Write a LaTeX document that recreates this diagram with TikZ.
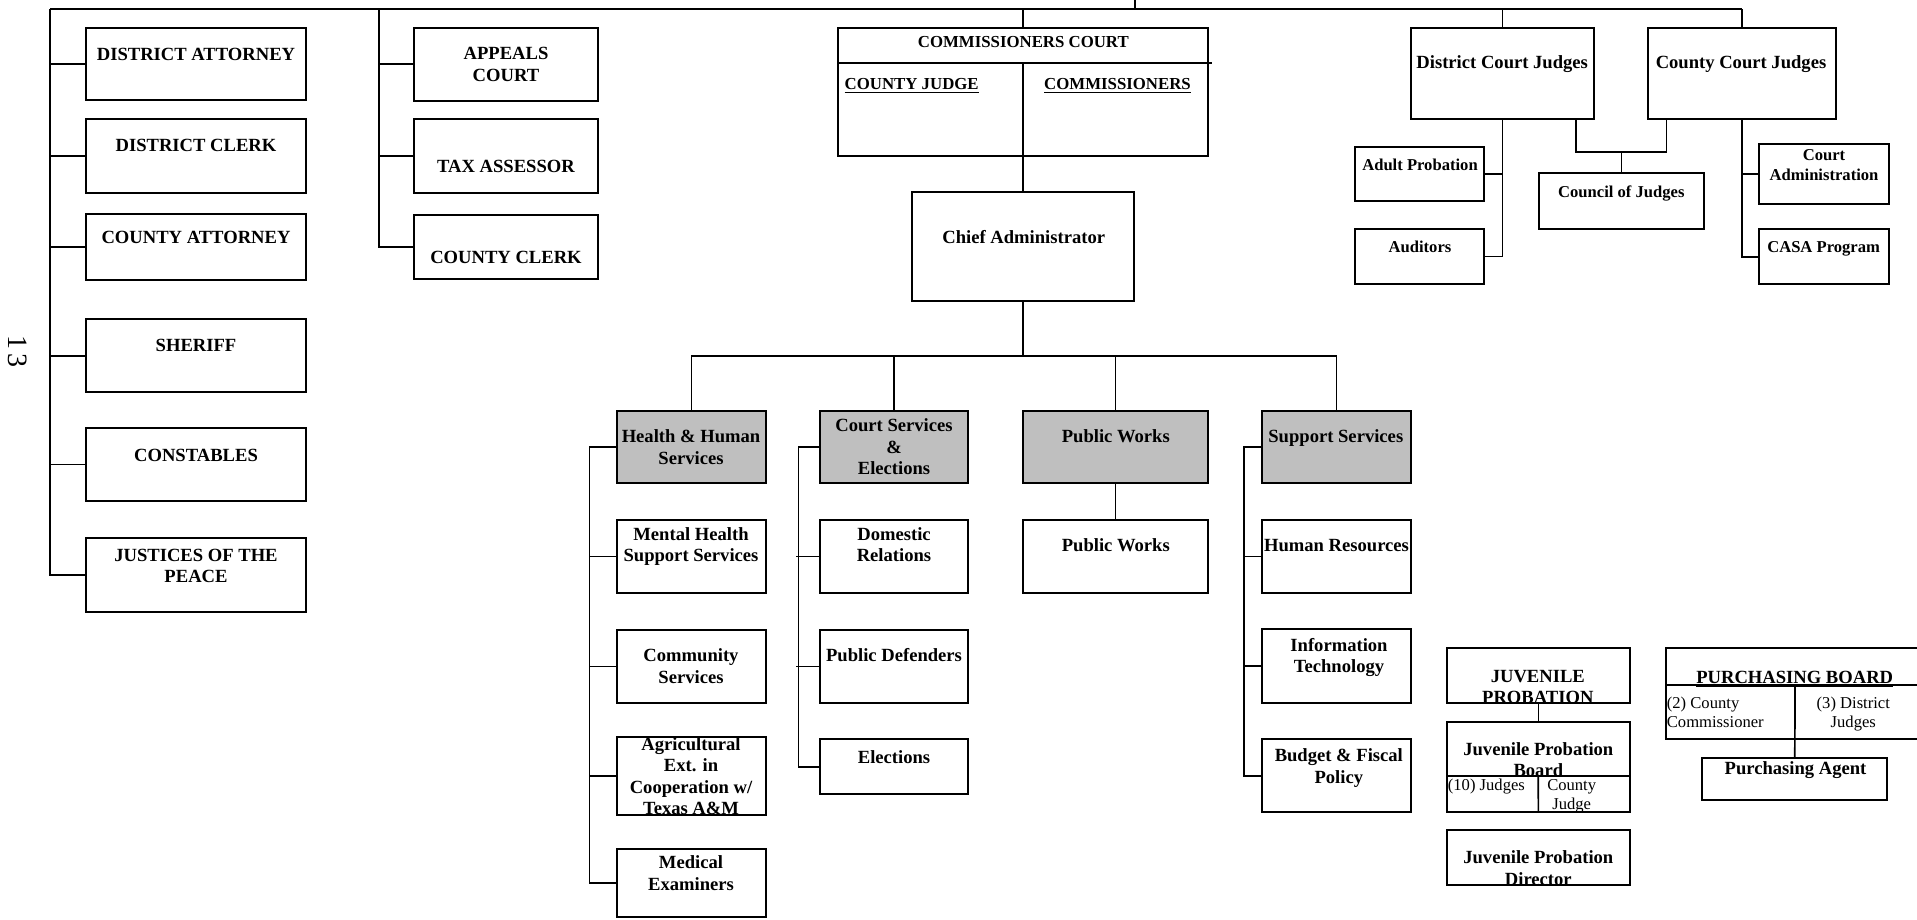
\documentclass[tikz,border=0pt]{standalone}
\usepackage{fontspec}
\setmainfont{Liberation Serif}
\usetikzlibrary{fit,calc}
\begin{document}
\begin{tikzpicture}[x=0.5pt,y=-0.5pt,
 box/.style={draw, line width=0.9pt, inner sep=0pt, outer sep=0pt},
 dept/.style={box, fill=black!25},
 txtb/.style={font=\fontsize{9.3}{10.8}\selectfont\bfseries, align=center, anchor=base, inner sep=0pt},
 txts/.style={font=\fontsize{8.3}{10}\selectfont\bfseries, align=center, anchor=base, inner sep=0pt},
 txtr/.style={font=\fontsize{8.3}{9.65}\selectfont, align=center, anchor=base, inner sep=0pt},
 txtc/.style={font=\fontsize{8.4}{10}\selectfont\bfseries, align=center, anchor=base, inner sep=0pt},
 link/.style={line width=0.85pt}]
\useasboundingbox (0,0) rectangle (1917,920);

% ---------- boxes ----------
\node[box, fit={(86,27.7)(306,100)}] (da) {};
\node[box, fit={(86,119)(306,192.7)}] (dc) {};
\node[box, fit={(86,214)(306,280)}] (ca) {};
\node[box, fit={(86,319)(306,392.3)}] (sh) {};
\node[box, fit={(86,427.7)(306,501)}] (co) {};
\node[box, fit={(86,537.7)(306,611.7)}] (jp) {};
\node[box, fit={(414,27.7)(598,100.7)}] (ap) {};
\node[box, fit={(414,119)(598,192.7)}] (ta) {};
\node[box, fit={(414,215)(598,279.3)}] (cc) {};
\node[box, fit={(838,28)(1208,156)}] (ccourt) {};
\node[box, fit={(912,192)(1134,301)}] (chief) {};
\node[box, fit={(1410.7,27.7)(1594,119.3)}] (dcj) {};
\node[box, fit={(1648,27.7)(1836,119.3)}] (ccj) {};
\node[box, fit={(1355,146.7)(1484.3,201)}] (adp) {};
\node[box, fit={(1355,229)(1484.3,284)}] (aud) {};
\node[box, fit={(1539,173.3)(1704,229.3)}] (coj) {};
\node[box, fit={(1759.3,144)(1889,204.3)}] (cadm) {};
\node[box, fit={(1759.3,229.3)(1889,284)}] (casa) {};
\node[dept, fit={(617,411)(766,483)}] (hhs) {};
\node[dept, fit={(820,411)(968,483)}] (csv) {};
\node[dept, fit={(1023,411)(1208,483)}] (pwd) {};
\node[dept, fit={(1262,411)(1411,483)}] (ss) {};
\node[box, fit={(617,520)(766,593)}] (mh) {};
\node[box, fit={(617,630)(766,702.7)}] (comm) {};
\node[box, fit={(617,736.7)(766,815)}] (agri) {};
\node[box, fit={(617,849)(766,917)}] (med) {};
\node[box, fit={(820,520)(968,593)}] (dom) {};
\node[box, fit={(820,630)(968,702.7)}] (pd) {};
\node[box, fit={(820,739)(968,794.3)}] (elec) {};
\node[box, fit={(1023,520)(1208,593.3)}] (pw) {};
\node[box, fit={(1262,520)(1411,593)}] (hr) {};
\node[box, fit={(1262,629.3)(1411,702.7)}] (it) {};
\node[box, fit={(1262,739)(1411,812.3)}] (bud) {};
\node[box, fit={(1446.7,647.7)(1630,703.3)}] (juv) {};
\node[box, fit={(1446.7,721.7)(1630,811.7)}] (jpb) {};
\node[box, fit={(1446.7,830)(1630,885)}] (jpd) {};
\node[box, fit={(1665.7,648.3)(1930,739.3)}] (pb) {};
\node[box, fit={(1702.3,757.7)(1887.3,800.3)}] (pa) {};

% ---------- connectors ----------
\coordinate (topL) at (50,9.3);
\draw[link] (topL) -- (topL -| ccj.north);
\draw[link] (topL) |- (jp.west);
\foreach \n in {da,dc,ca,sh,co} \draw[link] (\n.west) -- (\n.west -| topL);
\coordinate (apx) at (379,9.3);
\draw[link] (apx) |- (cc.west);
\foreach \n in {ap,ta} \draw[link] (\n.west) -- (\n.west -| apx);
\draw[link] (ccourt.north) -- (ccourt.north |- topL);
\coordinate (upl) at (1135,-4);
\draw[link] (upl) -- (upl |- topL);
\draw[link] (dcj.north) -- (dcj.north |- topL);
\draw[link] (ccj.north) -- (ccj.north |- topL);

\coordinate (ccd) at (1023,63);
\draw[link] (ccourt.west |- ccd) -- ($(ccourt.east |- ccd)+(4,0)$);
\draw[link] (ccd) -- (ccourt.south);
\draw[link] (ccourt.south) -- (chief.north);
\coordinate (br) at (1023,355.7);
\draw[link] (chief.south) -- (br);
\draw[link] (hhs.north) -- (hhs.north |- br) -- (ss.north |- br) -- (ss.north);
\draw[link] (csv.north) -- (csv.north |- br);
\draw[link] (pwd.north) -- (pwd.north |- br);

\coordinate (hx) at (589.5,0);
\draw[link] (hhs.west) -- (hhs.west -| hx) |- (med.west);
\foreach \n in {mh,comm,agri} \draw[link] (\n.west) -- (\n.west -| hx);
\coordinate (cx) at (798.5,0);
\draw[link] (csv.west) -- (csv.west -| cx) |- (elec.west);
\foreach \n in {dom,pd} \draw[link] (\n.west) -- ($(\n.west -| cx)+(-3,0)$);
\draw[link] (pwd.south) -- (pw.north);
\coordinate (sx) at (1244.3,0);
\draw[link] (ss.west) -- (ss.west -| sx) |- (bud.west);
\foreach \n in {hr,it} \draw[link] (\n.west) -- (\n.west -| sx);

\draw[link] (dcj.south) |- (aud.east);
\draw[link] (adp.east) -- (adp.east -| dcj.south);
\coordinate (cj1) at ($(dcj.south east)+(-18.3,0)$);
\coordinate (cj2) at ($(ccj.south west)+(18.4,0)$);
\coordinate (cjm) at (1621.5,151.7);
\draw[link] (cj1) |- (cjm) -| (cj2);
\draw[link] (coj.north) -- (cjm);
\draw[link] (ccj.south) |- (casa.west);
\draw[link] (cadm.west) -- (cadm.west -| ccj.south);

\draw[link] (juv.south) -- (jpb.north);
\coordinate (jpd1) at (1538.3,775.7);
\draw[link] (jpb.west |- jpd1) -- (jpb.east |- jpd1);
\draw[link] (jpd1) -- (jpb.south);
\coordinate (pbd) at (1795,685);
\draw[link] (pb.west |- pbd) -- (pb.east |- pbd);
\draw[link] (pbd) -- (pa.north);

% ---------- texts (anchor = baseline of the last line) ----------
\node[txtb] (t-da) at (196,61) {DISTRICT ATTORNEY};
\node[txtb] (t-dc) at (196,152) {DISTRICT CLERK};
\node[txtb] (t-ca) at (196,243) {COUNTY ATTORNEY};
\node[txtb] (t-sh) at (196,351) {SHERIFF};
\node[txtb] (t-co) at (196,461) {CONSTABLES};
\node[txtb] (t-jp) at (196,582.6) {JUSTICES OF THE\\PEACE};
\node[txtb] (t-ap) at (506,81.1) {APPEALS\\COURT};
\node[txtb] (t-ta) at (506,172) {TAX ASSESSOR};
\node[txtb] (t-cc) at (506,263.5) {COUNTY CLERK};

\node[txtc] (t-ccourt) at (1023.3,47.6) {COMMISSIONERS COURT};
\node[txtc] (t-cj) at (911.7,89.5) {\underline{COUNTY JUDGE}};
\node[txtc] (t-cm) at (1117.5,89.5) {\underline{COMMISSIONERS}};
\node[txtb] (t-chief) at (1023.7,243) {Chief Administrator};

\node[txtb] (t-dcj) at (1502.2,68.3) {District Court Judges};
\node[txtb] (t-ccj) at (1741,68.3) {County Court Judges};
\node[txts] (t-adp) at (1420,170.5) {Adult Probation};
\node[txts] (t-aud) at (1420,252.2) {Auditors};
\node[txts] (t-coj) at (1621.3,197.8) {Council of Judges};
\node[txts] (t-cadm) at (1824,180.5) {Court\\Administration};
\node[txts] (t-casa) at (1823.6,252.5) {CASA Program};

\node[txtb] (t-hhs) at (691,464.3) {Health \& Human\\Services};
\node[txtb] (t-csv) at (894,474.9) {Court Services\\\&\\Elections};
\node[txtb] (t-pwd) at (1115.8,442) {Public Works};
\node[txtb] (t-ss) at (1335.8,442.7) {Support Services};
\node[txtb] (t-mh) at (691,561.9) {Mental Health\\Support Services};
\node[txtb] (t-comm) at (691,683.3) {Community\\Services};
\node[txtb] (t-agri) at (691,814.8) {Agricultural\\Ext. in\\Cooperation w/\\Texas A\&M};
\node[txtb] (t-med) at (691,890.3) {Medical\\Examiners};
\node[txtb] (t-dom) at (894,561.9) {Domestic\\Relations};
\node[txtb] (t-pd) at (894,661.7) {Public Defenders};
\node[txtb] (t-elec) at (894,763.3) {Elections};
\node[txtb] (t-pw) at (1115.8,551) {Public Works};
\node[txtb] (t-hr) at (1336.5,551.3) {Human Resources};
\node[txtb] (t-it) at (1339,672.6) {Information\\Technology};
\node[txtb] (t-bud) at (1338.8,783.3) {Budget \& Fiscal\\Policy};

\node[txtb] (t-juv) at (1537.8,703.6) {JUVENILE\\PROBATION};
\node[txtb] (t-jpb) at (1538.3,776.6) {Juvenile Probation\\Board};
\node[txtr, anchor=base west] (t-j10) at (1447.5,790.5) {(10) Judges};
\node[txtr] (t-jcj) at (1571.7,809.8) {County\\Judge};
\node[txtb] (t-jpd) at (1538.3,885.3) {Juvenile Probation\\Director};

\node[txtb] (t-pb) at (1794.7,683) {\underline{PURCHASING BOARD}};
\node[txtr, align=left, anchor=base west] (t-pb2) at (1666.5,727.5) {(2) County\\Commissioner};
\node[txtr] (t-pb3) at (1853.3,727.5) {(3) District\\Judges};
\node[txtb] (t-pa) at (1795.5,774.3) {Purchasing Agent};

\node[font=\fontsize{14}{14}\selectfont, rotate=-90, inner sep=0pt] (pgnum) at (18,351.7) {1\kern2pt3};
\end{tikzpicture}
\end{document}
